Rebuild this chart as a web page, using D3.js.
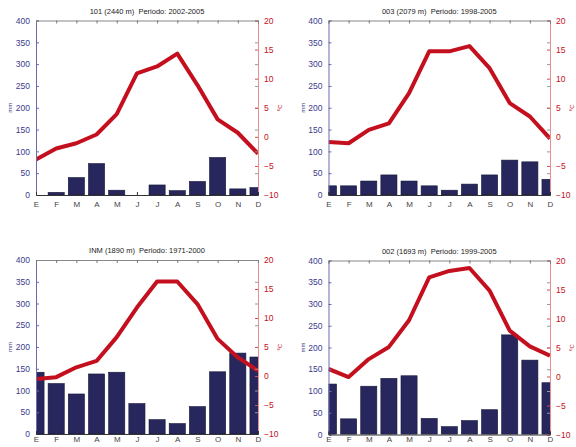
<!DOCTYPE html>
<html>
<head>
<meta charset="utf-8">
<script src="https://cdn.jsdelivr.net/npm/d3@7"></script>
<style>
  body { margin: 0; background: #fff; }
  svg { display: block; font-family: Arial, "Liberation Sans", sans-serif; }
</style>
</head>
<body>
<svg id="chart" width="576" height="447"></svg>
<script>
// month labels (Spanish initials)
const months = ['E','F','M','A','M','J','J','A','S','O','N','D'];
const precipTicks = [0,50,100,150,200,250,300,350,400];
const tempTicks = [-10,-5,0,5,10,15,20];

const titles = [
	'101 (2440 m)  Periodo: 2002-2005',
	'003 (2079 m)  Periodo: 1998-2005',
	'INM (1890 m)  Periodo: 1971-2000',
	'002 (1693 m)  Periodo: 1999-2005'
];

// precipitation, mm
const precip101 = [0, 6, 40, 72, 11, 0, 23, 10, 31, 86, 14, 17];
const precip003 = [21, 21, 32, 46, 32, 21, 11, 25, 46, 80, 76, 36];
const precipINM = [142, 116, 92, 138, 142, 70, 33, 24, 63, 143, 186, 177];
const precip002 = [116, 36, 111, 129, 135, 37, 18, 32, 57, 229, 171, 119];

// mean temperature, degC
const temp101 = [-3.9, -2.0, -1.1, 0.4, 3.9, 10.9, 12.1, 14.3, 8.9, 3.0, 0.7, -2.9];
const temp003 = [-0.9, -1.1, 1.2, 2.3, 7.5, 14.7, 14.7, 15.6, 11.8, 5.8, 3.5, -0.3];
const tempINM = [-0.5, -0.2, 1.5, 2.6, 6.7, 11.8, 16.3, 16.3, 12.4, 6.4, 3.2, 0.9];
const temp002 = [1.3, -0.1, 3.0, 5.1, 9.7, 17.1, 18.2, 18.7, 14.8, 7.9, 5.2, 3.6];

const precipSeries = [precip101, precip003, precipINM, precip002];
const tempSeries = [temp101, temp003, tempINM, temp002];

// plot boxes of the four panels
const boxes = [
	{left: 36, right: 258, top: 20.5, bottom: 195, pad: 6},
	{left: 328.5, right: 550, top: 20.5, bottom: 195, pad: 6},
	{left: 36, right: 258, top: 260, bottom: 434, pad: 2},
	{left: 328.5, right: 550, top: 260.5, bottom: 434.5, pad: 2}
];

const blue = '#3b3b8c';
const red = '#c4101e';
const barFill = '#27275e';

const svg = d3.select('#chart');

boxes.forEach(function(b, p){
	const w = b.right - b.left;
	const h = b.bottom - b.top;
	const g = svg.append('g').attr('transform', 'translate(' + b.left + ',' + b.top + ')');

	const x = d3.scalePoint().domain(d3.range(12)).range([0, w]);
	const yP = d3.scaleLinear().domain([0, 400]).range([h, 0]);
	const yT = d3.scaleLinear().domain([-10, 20]).range([h, 0]);
	const barW = x.step() * 0.8;

	g.append('clipPath').attr('id', 'clip' + p)
		.append('rect').attr('width', w).attr('height', h);

	const plot = g.append('g').attr('clip-path', 'url(#clip' + p + ')');

	plot.selectAll('rect.bar')
		.data(precipSeries[p]).enter()
		.append('rect')
		.attr('class', 'bar')
		.attr('x', function(d, i){ return x(i) - barW / 2; })
		.attr('width', barW)
		.attr('y', function(d){ return yP(d); })
		.attr('height', function(d){ return h - yP(d); })
		.attr('fill', barFill)
		.attr('stroke', '#15153a')
		.attr('stroke-width', 0.6);

	const line = d3.line()
		.x(function(d, i){ return x(i); })
		.y(function(d){ return yT(d); });

	plot.append('path')
		.datum(tempSeries[p])
		.attr('d', line)
		.attr('fill', 'none')
		.attr('stroke', red)
		.attr('stroke-width', 4)
		.attr('stroke-linejoin', 'round');

	// left axis (mm), ticks pointing inward
	const leftAxis = g.append('g')
		.call(d3.axisLeft(yP).tickValues(precipTicks).tickSize(-3).tickPadding(6));
	leftAxis.select('.domain').attr('stroke', '#6a6ab0');
	leftAxis.selectAll('line').attr('stroke', '#6a6ab0');
	leftAxis.selectAll('text').attr('fill', blue).style('font-size', '8.5px');

	// mirrored mm ticks on right side
	g.append('g').attr('transform', 'translate(' + w + ',0)')
		.call(d3.axisRight(yP).tickValues(precipTicks).tickSize(-3).tickFormat(''))
		.call(function(a){ a.select('.domain').remove(); })
		.selectAll('line').attr('stroke', '#999');

	// right axis (degC)
	const rightAxis = g.append('g').attr('transform', 'translate(' + w + ',0)')
		.call(d3.axisRight(yT).tickValues(tempTicks).tickSize(-3).tickPadding(6));
	rightAxis.select('.domain').attr('stroke', '#e89090');
	rightAxis.selectAll('line').attr('stroke', '#d05050');
	rightAxis.selectAll('text').attr('fill', red).style('font-size', '8.5px');

	// top axis
	const topAxis = g.append('g')
		.call(d3.axisTop(x).tickSize(-3).tickFormat(''));
	topAxis.select('.domain').attr('stroke', '#888');
	topAxis.selectAll('line').attr('stroke', '#777');

	// bottom axis with month labels
	const bottomAxis = g.append('g').attr('transform', 'translate(0,' + h + ')')
		.call(d3.axisBottom(x).tickSize(-3).tickPadding(b.pad).tickFormat(function(i){ return months[i]; }));
	bottomAxis.select('.domain').attr('stroke', '#333');
	bottomAxis.selectAll('line').attr('stroke', '#333');
	bottomAxis.selectAll('text').attr('fill', '#444').style('font-size', '8px');

	// titles and axis labels
	g.append('text')
		.attr('x', w / 2).attr('y', -7)
		.attr('text-anchor', 'middle')
		.style('font-size', '7.5px')
		.style('white-space', 'pre')
		.attr('fill', '#222')
		.text(titles[p]);

	g.append('text')
		.attr('transform', 'translate(' + (-24) + ',' + (h / 2) + ')rotate(-90)')
		.attr('text-anchor', 'middle')
		.style('font-size', '6px')
		.attr('fill', blue)
		.text('mm');

	g.append('text')
		.attr('transform', 'translate(' + (w + 24) + ',' + (h / 2) + ')rotate(-90)')
		.attr('text-anchor', 'middle')
		.style('font-size', '6px')
		.attr('fill', red)
		.text('ºC');
});
</script>
</body>
</html>
